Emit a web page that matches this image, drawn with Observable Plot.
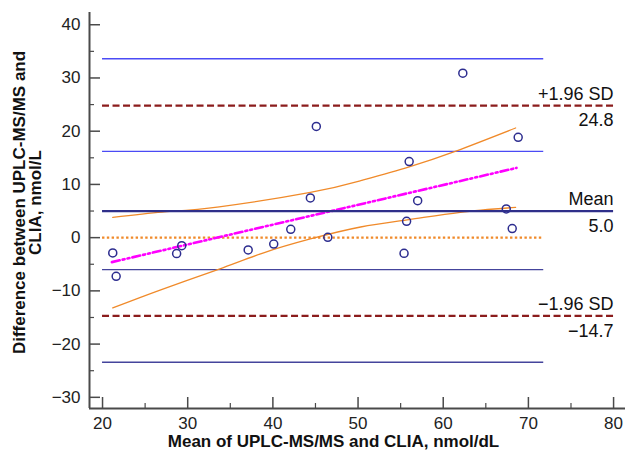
<!DOCTYPE html>
<html>
<head>
<meta charset="utf-8">
<script src="https://cdn.jsdelivr.net/npm/d3@7"></script>
<script src="https://cdn.jsdelivr.net/npm/@observablehq/plot@0.6"></script>
<style>
  html, body { margin: 0; padding: 0; background: #fff; }
  svg { display: block; }
</style>
</head>
<body>
<div id="chart"></div>
<script>
// ---- data ----
const xMeans = [62.3, 45.1, 68.8, 56.0, 44.4, 57.0, 67.4, 55.7, 68.1, 55.4, 21.2, 21.6, 28.7, 29.3, 37.1, 40.1, 42.1, 46.45];
const yDiffs = [30.9, 20.9, 18.85, 14.3, 7.46, 6.95, 5.4, 3.06, 1.7, -2.95, -2.88, -7.27, -3.0, -1.5, -2.3, -1.2, 1.57, 0.06];

const refNames = ["+1.96 SD", "Mean", "\u22121.96 SD"];
const refValues = [24.8, 5.0, -14.7];
const refText = ["24.8", "5.0", "\u221214.7"];

const ciUpperLimit = [33.6, 16.2];   // CI of upper limit of agreement
const ciLowerLimit = [-6.0, -23.4];  // CI of lower limit of agreement
const zeroLine = [0];

const lineStart = 20;
const ciEnd = 71.8;
const refEnd = 80;

const regX = [21.1, 68.6];
const regY = [-4.6, 13.1];

const ciUpX = [21.2, 27, 33.7, 44.4, 50.3, 56, 61.4, 68.5];
const ciUpY = [3.8, 4.8, 5.8, 8.5, 10.7, 13.3, 16.2, 20.6];
const ciLoX = [21.2, 27, 33.7, 39, 44.4, 50.3, 56, 62.0, 68.5];
const ciLoY = [-13.2, -9.7, -5.9, -2.8, -0.25, 2.0, 3.4, 4.76, 5.7];

const xMajor = [20, 30, 40, 50, 60, 70, 80];
const xMinor = [25, 35, 45, 55, 65, 75];
const yMajor = [-30, -20, -10, 0, 10, 20, 30, 40];
const yMinor = [-25, -15, -5, 5, 15, 25, 35];

const xDomain = [18.47, 81.4];
const yDomain = [-32.1, 42.3];

const xTitle = "Mean of UPLC-MS/MS and CLIA, nmol/dL";
const yTitle = "Difference between UPLC-MS/MS and\nCLIA, nmol/L";

// ---- build tables ----
const points = xMeans.map((x, i) => ({x, y: yDiffs[i]}));
const refs = refNames.map((n, i) => ({name: n, value: refValues[i], text: refText[i]}));
const reg = regX.map((x, i) => ({x, y: regY[i]}));
const ciUp = ciUpX.map((x, i) => ({x, y: ciUpY[i]}));
const ciLo = ciLoX.map((x, i) => ({x, y: ciLoY[i]}));

const axisColor = "#4a4a4a";
const font = "'Liberation Sans', Arial, sans-serif";

const chart = Plot.plot({
  width: 626,
  height: 457,
  marginLeft: 89,
  marginRight: 1,
  marginTop: 12,
  marginBottom: 49,
  style: {fontFamily: font, fontSize: "17px", color: "#222", background: "#fff"},
  x: {domain: xDomain, axis: null, label: null},
  y: {domain: yDomain, axis: null, label: null},
  marks: [
    // CI of limits of agreement
    Plot.ruleY(ciUpperLimit, {y: d => d, x1: lineStart, x2: ciEnd, stroke: "#4b4bf5", strokeWidth: 1.4}),
    Plot.ruleY(ciLowerLimit, {y: d => d, x1: lineStart, x2: ciEnd, stroke: "#44449c", strokeWidth: 1.4}),
    // zero line
    Plot.ruleY(zeroLine, {y: d => d, x1: lineStart, x2: ciEnd, stroke: "#f08a2a", strokeWidth: 2.2, strokeDasharray: "2.4,2.4"}),
    // regression CI curves
    Plot.line(ciUp, {x: "x", y: "y", stroke: "#f08a2a", strokeWidth: 1.3, curve: "natural"}),
    Plot.line(ciLo, {x: "x", y: "y", stroke: "#f08a2a", strokeWidth: 1.3, curve: "natural"}),
    // regression line
    Plot.line(reg, {x: "x", y: "y", stroke: "#ff00ff", strokeWidth: 2.6, strokeDasharray: "8,3,2,3,2,3"}),
    // mean and limits
    Plot.ruleY(refs.filter(d => d.name !== "Mean"), {y: "value", x1: lineStart, x2: refEnd, stroke: "#8b1c1c", strokeWidth: 2.2, strokeDasharray: "7,3.5"}),
    Plot.ruleY(refs.filter(d => d.name === "Mean"), {y: "value", x1: lineStart, x2: refEnd, stroke: "#2f2f8a", strokeWidth: 2.2}),
    Plot.text(refs, {x: refEnd, y: "value", text: "name", textAnchor: "end", dy: -11.5, fontSize: 18, fill: "#111"}),
    Plot.text(refs, {x: refEnd, y: "value", text: "text", textAnchor: "end", dy: 15, fontSize: 18, fill: "#111"}),
    // points
    Plot.dot(points, {x: "x", y: "y", r: 4, stroke: "#2d2d8f", strokeWidth: 1.5, fill: "none"}),
    // axis lines
    Plot.ruleX([xDomain[0]], {stroke: axisColor, strokeWidth: 2}),
    Plot.ruleY([yDomain[0]], {stroke: axisColor, strokeWidth: 2}),
    // inward ticks
    Plot.axisY({ticks: yMajor, tickSize: 11, dx: 11, tickFormat: () => "", label: null, stroke: axisColor, strokeWidth: 1.5}),
    Plot.axisY({ticks: yMinor, tickSize: 5, dx: 5, tickFormat: () => "", label: null, stroke: axisColor, strokeWidth: 1.2}),
    Plot.axisX({ticks: xMajor, tickSize: 11, dy: -11, tickFormat: () => "", label: null, stroke: axisColor, strokeWidth: 1.5}),
    Plot.axisX({ticks: xMinor, tickSize: 5, dy: -5, tickFormat: () => "", label: null, stroke: axisColor, strokeWidth: 1.2}),
    // tick labels
    Plot.axisY({ticks: yMajor, tickSize: 0, tickPadding: 9, tickFormat: d => d < 0 ? "\u2212" + Math.abs(d) : String(d), fontSize: 17, fill: "#222", label: null}),
    Plot.axisX({ticks: xMajor, tickSize: 0, tickPadding: 8, fontSize: 17, fill: "#222", label: null}),
    // titles
    Plot.text([xTitle], {frameAnchor: "bottom", text: d => d, dy: 38, dx: -24, fontWeight: "bold", fontSize: 17, fill: "#111"}),
    Plot.text([yTitle], {frameAnchor: "left", text: d => d, rotate: -90, textAnchor: "middle", dx: -62, dy: -8, fontWeight: "bold", fontSize: 17, lineHeight: 0.95, fill: "#111"})
  ]
});
document.getElementById("chart").appendChild(chart);
</script>
</body>
</html>
